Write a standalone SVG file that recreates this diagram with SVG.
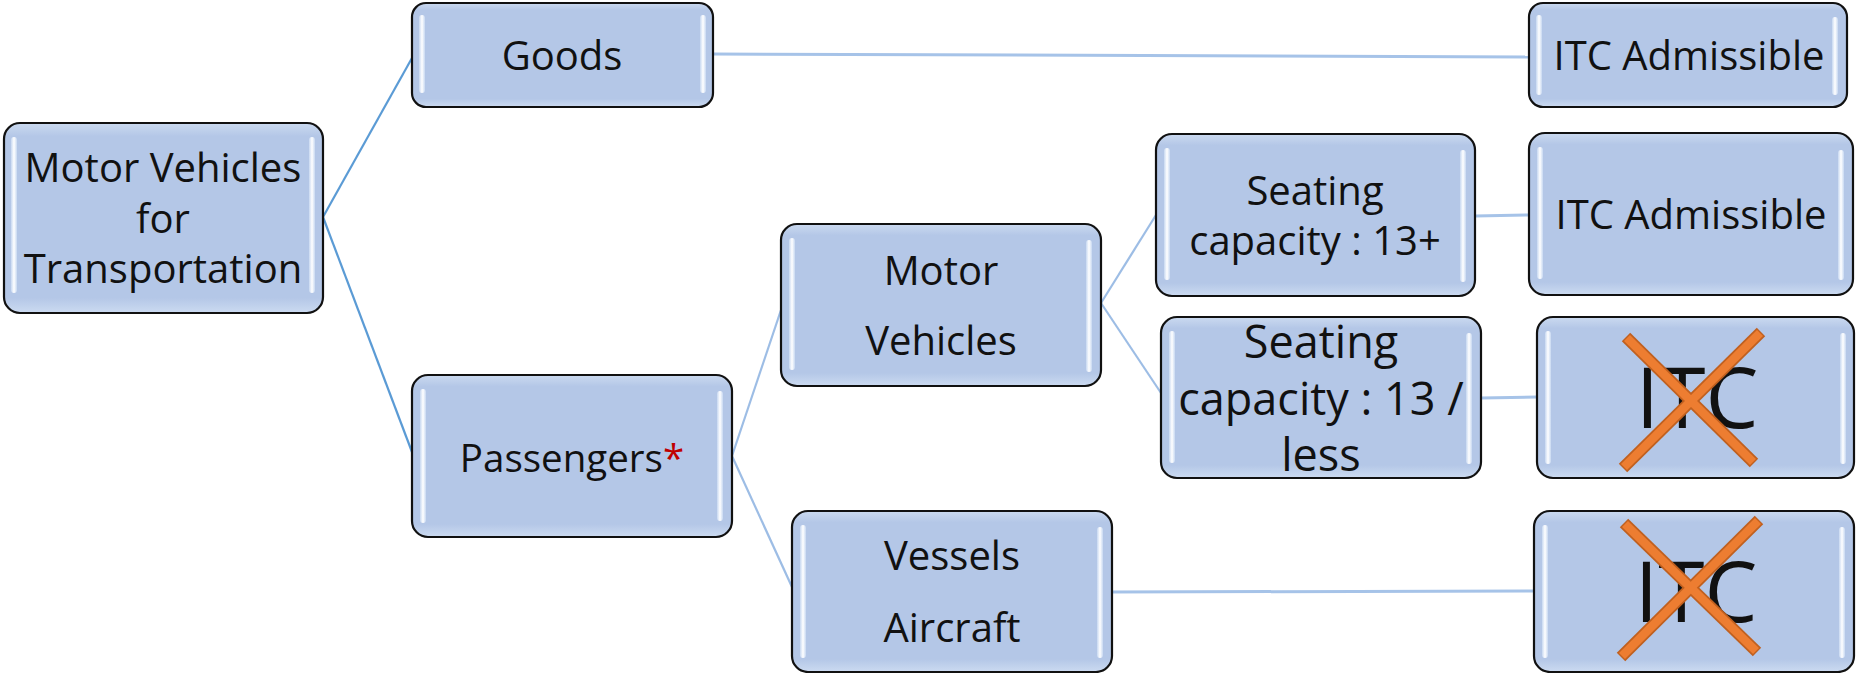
<svg xmlns="http://www.w3.org/2000/svg" width="1856" height="673" viewBox="0 0 1856 673">
  <defs>
    <!-- soft bevel on the box body -->
    <linearGradient id="boxFill" x1="0" y1="0" x2="0" y2="1">
      <stop offset="0" stop-color="#CBDAF0"/>
      <stop offset="0.07" stop-color="#B4C7E7"/>
      <stop offset="0.92" stop-color="#B4C7E7"/>
      <stop offset="1" stop-color="#CCDBF1"/>
    </linearGradient>
    <!-- glossy vertical highlight strips -->
    <linearGradient id="gloss" x1="0" y1="0" x2="1" y2="0">
      <stop offset="0" stop-color="#C7D8F1"/>
      <stop offset="0.5" stop-color="#FFFFFF"/>
      <stop offset="1" stop-color="#C7D8F1"/>
    </linearGradient>
  </defs>
  <style>
    .box { fill: url(#boxFill); stroke: #111; stroke-width: 2.2; }
    .gl { fill: url(#gloss); }
    .t { font-family: "Open Sans", "Noto Sans", "DejaVu Sans", sans-serif; font-size: 40px; fill: #111; text-anchor: middle; }
    .mid { font-size: 38.5px; }
    .big { font-size: 45px; }
    .huge { font-size: 84px; }
    .red { fill: #C00000; }
    .c1 { stroke: #5B9BD5; stroke-width: 2.2; fill: none; }
    .c2 { stroke: #9DBDE5; stroke-width: 2.2; fill: none; }
    .c3 { stroke: #A6C3E8; stroke-width: 3; fill: none; }
    .xo { stroke: #C0601F; stroke-width: 12; }
    .xi { stroke: #ED7D31; stroke-width: 8.5; }
  </style>

  <rect width="1856" height="673" fill="#FFFFFF"/>

  <!-- connectors -->
  <g id="connectors">
    <line class="c1" x1="323" y1="217" x2="412" y2="58"/>
    <line class="c1" x1="323" y1="217" x2="412" y2="452"/>
    <line class="c3" x1="713" y1="54" x2="1529" y2="57"/>
    <line class="c2" x1="732" y1="456" x2="781" y2="310"/>
    <line class="c2" x1="732" y1="456" x2="792" y2="587"/>
    <line class="c2" x1="1101" y1="303" x2="1156" y2="215"/>
    <line class="c2" x1="1101" y1="303" x2="1161" y2="393"/>
    <line class="c3" x1="1475" y1="216" x2="1529" y2="215"/>
    <line class="c3" x1="1481" y1="398" x2="1537" y2="397"/>
    <line class="c3" x1="1112" y1="592" x2="1534" y2="591"/>
  </g>

  <!-- root -->
  <g id="root">
    <rect class="box" x="4" y="123" width="319" height="190" rx="16"/>
    <rect class="gl" x="11" y="137" width="6" height="156" rx="3"/>
    <rect class="gl" x="309" y="137" width="6" height="156" rx="3"/>
    <text class="t" x="163" y="182">Motor Vehicles</text>
    <text class="t" x="163" y="233">for</text>
    <text class="t" x="163" y="283">Transportation</text>
  </g>

  <g id="goods">
    <rect class="box" x="412" y="3" width="301" height="104" rx="14"/>
    <rect class="gl" x="419" y="15" width="6" height="78" rx="3"/>
    <rect class="gl" x="700" y="15" width="6" height="78" rx="3"/>
    <text class="t" x="562" y="70">Goods</text>
  </g>

  <g id="passengers">
    <rect class="box" x="412" y="375" width="320" height="162" rx="16"/>
    <rect class="gl" x="420" y="389" width="6" height="134" rx="3"/>
    <rect class="gl" x="717" y="391" width="6" height="130" rx="3"/>
    <text class="t mid" x="572" y="472">Passengers<tspan class="red">*</tspan></text>
  </g>

  <g id="motor-vehicles">
    <rect class="box" x="781" y="224" width="320" height="162" rx="16"/>
    <rect class="gl" x="789" y="238" width="6" height="132" rx="3"/>
    <rect class="gl" x="1086" y="240" width="6" height="132" rx="3"/>
    <text class="t" x="941" y="285">Motor</text>
    <text class="t" x="941" y="355">Vehicles</text>
  </g>

  <g id="vessels-aircraft">
    <rect class="box" x="792" y="511" width="320" height="161" rx="16"/>
    <rect class="gl" x="800" y="525" width="6" height="133" rx="3"/>
    <rect class="gl" x="1097" y="527" width="6" height="131" rx="3"/>
    <text class="t" x="952" y="570">Vessels</text>
    <text class="t" x="952" y="642">Aircraft</text>
  </g>

  <g id="seating-13plus">
    <rect class="box" x="1156" y="134" width="319" height="162" rx="16"/>
    <rect class="gl" x="1164" y="148" width="6" height="132" rx="3"/>
    <rect class="gl" x="1460" y="150" width="6" height="132" rx="3"/>
    <text class="t" x="1315" y="205">Seating</text>
    <text class="t" x="1315" y="255">capacity : 13+</text>
  </g>

  <g id="seating-13less">
    <rect class="box" x="1161" y="317" width="320" height="161" rx="16"/>
    <rect class="gl" x="1169" y="331" width="6" height="132" rx="3"/>
    <rect class="gl" x="1466" y="333" width="6" height="131" rx="3"/>
    <text class="t big" x="1321" y="358">Seating</text>
    <text class="t big" x="1321" y="415">capacity : 13 /</text>
    <text class="t big" x="1321" y="471">less</text>
  </g>

  <g id="itc-goods">
    <rect class="box" x="1529" y="3" width="318" height="104" rx="14"/>
    <rect class="gl" x="1536" y="15" width="6" height="80" rx="3"/>
    <rect class="gl" x="1832" y="17" width="6" height="78" rx="3"/>
    <text class="t" x="1689" y="70">ITC Admissible</text>
  </g>

  <g id="itc-13plus">
    <rect class="box" x="1529" y="133" width="324" height="162" rx="16"/>
    <rect class="gl" x="1537" y="147" width="6" height="132" rx="3"/>
    <rect class="gl" x="1838" y="150" width="6" height="130" rx="3"/>
    <text class="t" x="1691" y="229">ITC Admissible</text>
  </g>

  <g id="itc-13less">
    <rect class="box" x="1537" y="317" width="317" height="161" rx="16"/>
    <rect class="gl" x="1545" y="331" width="6" height="133" rx="3"/>
    <rect class="gl" x="1840" y="333" width="6" height="131" rx="3"/>
    <text class="t huge" x="1697" y="428">ITC</text>
    <line class="xo" x1="1626" y1="337" x2="1754" y2="463"/>
    <line class="xo" x1="1761" y1="332" x2="1623" y2="468"/>
    <line class="xi" x1="1627" y1="338" x2="1753" y2="462"/>
    <line class="xi" x1="1760" y1="333" x2="1624" y2="467"/>
  </g>

  <g id="itc-vessels">
    <rect class="box" x="1534" y="511" width="320" height="161" rx="16"/>
    <rect class="gl" x="1542" y="525" width="6" height="133" rx="3"/>
    <rect class="gl" x="1839" y="527" width="6" height="131" rx="3"/>
    <text class="t huge" x="1696" y="622">ITC</text>
    <line class="xo" x1="1624" y1="523" x2="1757" y2="652"/>
    <line class="xo" x1="1759" y1="520" x2="1621" y2="657"/>
    <line class="xi" x1="1625" y1="524" x2="1756" y2="651"/>
    <line class="xi" x1="1758" y1="521" x2="1622" y2="656"/>
  </g>
</svg>
